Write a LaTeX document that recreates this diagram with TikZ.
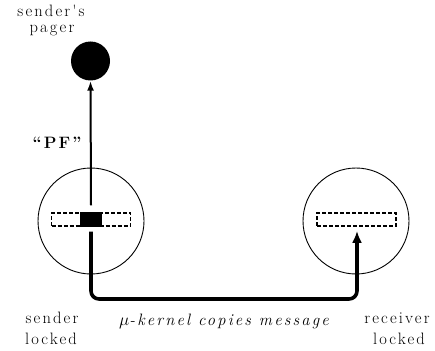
\documentclass[tikz,border=0pt]{standalone}
\usepackage{fontspec}
\usetikzlibrary{arrows.meta}
\newfontfamily\spfont[LetterSpace=13]{Latin Modern Roman}
\newcommand{\mylblfont}{\spfont\fontsize{16.5pt}{20pt}\selectfont}
\begin{document}
\begin{tikzpicture}[x=1pt,y=-1pt,
  lbl/.style={anchor=base,inner sep=0pt},
  ring/.style={circle,draw,line width=0.9pt,minimum size=106pt,inner sep=0pt},
  buf/.style={draw,line width=1.8pt,dash pattern=on 4pt off 2pt,minimum width=79pt,minimum height=13pt,inner sep=0pt},
  blk/.style={fill=black,minimum width=22pt,minimum height=15pt,inner sep=0pt},
  thin/.style={line width=2pt,-{Latex[length=10pt,width=7pt]}},
  thick/.style={line width=3.6pt,rounded corners=8pt,-{Latex[length=12pt,width=10pt]}}]
\useasboundingbox (0,0) rectangle (435,350);
\node[circle,fill=black,minimum size=39pt,inner sep=0pt] (pager) at (90.5,61) {};
\node[ring] (sc) at (91,221) {};
\node[ring] (rc) at (356,221) {};
\node[buf] (sbuf) at (91,219.5) {};
\node[buf] (rbuf) at (356.5,219.5) {};
\node[blk] (sblk) at (91,219.5) {};
\coordinate (c1) at (91,299);
\coordinate (c2) at (357,299);
\draw[thin] ([yshift=6.5pt]sblk.north) -- (pager.south);
\draw[thick] ([yshift=-4.5pt]sblk.south) -- (c1) -- (c2) -- ([yshift=-4pt]rbuf.south -| c2);
\node[lbl] (t1) at (51,17) {\mylblfont sender's};
\node[lbl] (t2) at (52,33) {\mylblfont pager};
\node[lbl] (pf) at (57,148) {\mylblfont\bfseries “PF”};
\node[lbl] (t3) at (52,323) {\mylblfont sender};
\node[lbl] (t4) at (51,344) {\mylblfont locked};
\node[lbl] (t5) at (397,323) {\mylblfont receiver};
\node[lbl] (t6) at (399,344) {\mylblfont locked};
\node[lbl] (mk) at (224,325) {\mylblfont\itshape $\mu$-kernel copies message};
\end{tikzpicture}
\end{document}
